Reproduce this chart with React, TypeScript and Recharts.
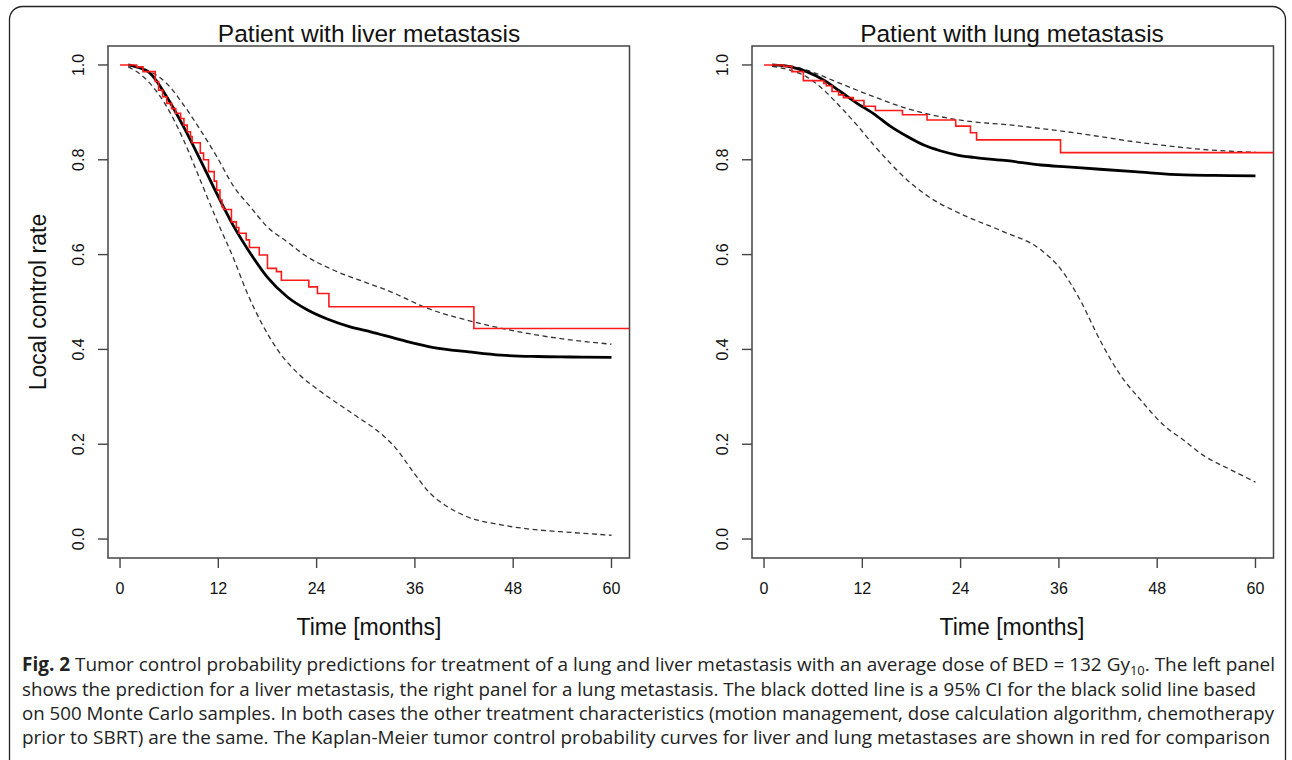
import React from 'react';
import { LineChart, Line, XAxis, YAxis, ReferenceArea } from 'recharts';

// ---------- tick labels ----------
const xTicks = [0, 12, 24, 36, 48, 60];
const yTicks = [0, 0.2, 0.4, 0.6, 0.8, 1.0];

// ---------- liver metastasis (left panel) ----------
const liverModelTime = [1, 2, 3.7, 5.7, 7.75, 9.8, 11.8, 13.9, 15.9, 17.95, 20.4, 22.9, 25.3, 28, 30.6, 34.3, 38.3, 42.6, 46.5, 51, 55, 60];
const liverModelRate = [1.0, 0.996, 0.982, 0.933, 0.87, 0.8, 0.729, 0.659, 0.603, 0.553, 0.511, 0.483, 0.464, 0.448, 0.437, 0.42, 0.404, 0.395, 0.388, 0.385, 0.384, 0.383];

const liverUpperTime = [1, 3.7, 5.7, 7.75, 9.8, 11.8, 13.9, 15.9, 17.95, 20.4, 22.8, 26.1, 30.2, 33, 37.5, 43.2, 47, 51, 55, 60];
const liverUpperRate = [1.0, 0.986, 0.961, 0.916, 0.863, 0.807, 0.743, 0.701, 0.659, 0.627, 0.596, 0.567, 0.54, 0.522, 0.487, 0.458, 0.443, 0.43, 0.42, 0.411];

const liverLowerTime = [1, 2.85, 5.7, 7.75, 9.8, 11.8, 13.9, 15.5, 17.3, 19.2, 22.0, 24.5, 28.6, 31.8, 33.5, 35.9, 37.5, 40, 42.4, 46.5, 50, 55, 60];
const liverLowerRate = [0.996, 0.975, 0.912, 0.842, 0.757, 0.673, 0.59, 0.52, 0.455, 0.4, 0.345, 0.311, 0.262, 0.223, 0.195, 0.139, 0.103, 0.068, 0.047, 0.03, 0.021, 0.014, 0.008];

const liverKmTime = [0, 2.0, 2.8, 4.3, 4.7, 5.2, 5.7, 6.3, 6.8, 7.4, 7.8, 8.2, 8.6, 8.8, 9.8, 10.2, 10.8, 11.5, 11.8, 12.2, 12.45, 12.65, 13.6, 14.2, 14.5, 15.4, 15.8, 17.0, 18.0, 19.1, 19.7, 23.05, 24.1, 25.5, 43.2, 62.2];
const liverKmRate = [1.0, 0.996, 0.986, 0.965, 0.947, 0.933, 0.919, 0.908, 0.898, 0.887, 0.873, 0.859, 0.849, 0.836, 0.814, 0.8, 0.775, 0.755, 0.736, 0.715, 0.701, 0.695, 0.669, 0.657, 0.645, 0.631, 0.615, 0.599, 0.571, 0.564, 0.546, 0.532, 0.518, 0.49, 0.444, 0.444];

// ---------- lung metastasis (right panel) ----------
const lungModelTime = [1, 3.2, 5.2, 7.3, 9.3, 11.35, 13.4, 15.4, 17.5, 19.5, 21.5, 23.6, 25.6, 29.7, 33.8, 37, 41, 45.2, 51.3, 55, 60];
const lungModelRate = [1.0, 0.996, 0.986, 0.968, 0.944, 0.919, 0.897, 0.871, 0.849, 0.831, 0.819, 0.81, 0.805, 0.798, 0.789, 0.785, 0.78, 0.775, 0.768, 0.767, 0.766];

const lungUpperTime = [1, 3.2, 5.2, 9.3, 13.4, 17.5, 21.5, 25.6, 29.7, 33.8, 37, 41, 45.2, 49, 53.4, 57, 60];
const lungUpperRate = [1.0, 0.998, 0.989, 0.961, 0.933, 0.908, 0.891, 0.88, 0.874, 0.866, 0.859, 0.849, 0.838, 0.83, 0.822, 0.818, 0.816];

const lungLowerTime = [1, 3.2, 5.2, 7.3, 9.3, 11.35, 13.4, 15.4, 17.5, 20.1, 24, 29, 33.8, 36.2, 38.6, 41, 43.5, 46, 48.8, 51.2, 53.6, 57, 60];
const lungLowerRate = [0.997, 0.989, 0.975, 0.947, 0.912, 0.873, 0.831, 0.793, 0.757, 0.722, 0.686, 0.65, 0.61, 0.57, 0.504, 0.42, 0.346, 0.293, 0.24, 0.209, 0.177, 0.146, 0.12];

const lungKmTime = [0, 2.4, 3.4, 4.8, 7.3, 7.6, 8.3, 9.1, 9.7, 10.9, 12.2, 13.6, 16.9, 19.9, 23.4, 25.2, 25.95, 36.2, 62.2];
const lungKmRate = [1.0, 0.997, 0.986, 0.967, 0.961, 0.956, 0.944, 0.937, 0.931, 0.925, 0.913, 0.904, 0.895, 0.884, 0.871, 0.857, 0.842, 0.815, 0.815];

// ---------- texts ----------
const panelTitles = ['Patient with liver metastasis', 'Patient with lung metastasis'];
const xAxisTitle = 'Time [months]';
const yAxisTitle = 'Local control rate';
const captionLines = [
  'shows the prediction for a liver metastasis, the right panel for a lung metastasis. The black dotted line is a 95% CI for the black solid line based',
  'on 500 Monte Carlo samples. In both cases the other treatment characteristics (motion management, dose calculation algorithm, chemotherapy',
  'prior to SBRT) are the same. The Kaplan-Meier tumor control probability curves for liver and lung metastases are shown in red for comparison',
];

const zip = (t: number[], v: number[]) => t.map((tt, i) => ({ t: tt, v: v[i] }));

const FONT = '"Liberation Sans", Arial, sans-serif';
const AX = '#444';

const XTick = (props: any) => {
  const { x, y, payload } = props;
  return (
    <text x={x} y={y + 24} textAnchor="middle" fontFamily={FONT} fontSize={16} fill="#111">
      {payload.value}
    </text>
  );
};

const YTick = (props: any) => {
  const { x, y, payload } = props;
  const cx = x - 17;
  return (
    <text
      x={cx}
      y={y}
      transform={`rotate(-90 ${cx} ${y})`}
      textAnchor="middle"
      dominantBaseline="central"
      fontFamily={FONT}
      fontSize={16}
      fill="#111"
    >
      {Number(payload.value).toFixed(1)}
    </text>
  );
};

type PanelProps = {
  left: number;
  model: { t: number; v: number }[];
  upper: { t: number; v: number }[];
  lower: { t: number; v: number }[];
  km: { t: number; v: number }[];
};

const X_DOMAIN: [number, number] = [-1.47, 62.2];
const Y_DOMAIN: [number, number] = [-0.04, 1.04];

const Panel = ({ left, model, upper, lower, km }: PanelProps) => (
  <div style={{ position: 'absolute', left, top: 0 }}>
    <LineChart width={650} height={640} margin={{ top: 46, right: 20.5, left: 48, bottom: 22 }}>
      <XAxis
        type="number"
        dataKey="t"
        domain={X_DOMAIN}
        allowDataOverflow
        ticks={xTicks}
        interval={0}
        height={60}
        axisLine={false}
        tickSize={10}
        tickLine={{ stroke: AX, strokeWidth: 1.4 }}
        tick={<XTick />}
      />
      <YAxis
        type="number"
        dataKey="v"
        domain={Y_DOMAIN}
        allowDataOverflow
        ticks={yTicks}
        interval={0}
        width={60}
        axisLine={false}
        tickSize={10}
        tickLine={{ stroke: AX, strokeWidth: 1.4 }}
        tick={<YTick />}
      />
      <ReferenceArea x1={X_DOMAIN[0]} x2={X_DOMAIN[1]} y1={Y_DOMAIN[0]} y2={Y_DOMAIN[1]} fill="none" stroke={AX} strokeWidth={1.5} />
      <Line data={upper} dataKey="v" type="monotone" stroke="#333" strokeWidth={1.3} strokeDasharray="5 3.5" dot={false} isAnimationActive={false} />
      <Line data={lower} dataKey="v" type="monotone" stroke="#333" strokeWidth={1.3} strokeDasharray="5 3.5" dot={false} isAnimationActive={false} />
      <Line data={model} dataKey="v" type="monotone" stroke="#000" strokeWidth={2.8} dot={false} isAnimationActive={false} />
      <Line data={km} dataKey="v" type="stepAfter" stroke="#ff1a1a" strokeWidth={1.6} dot={false} isAnimationActive={false} />
    </LineChart>
  </div>
);

const CAPTION_FONT = '"Open Sans", "Noto Sans", sans-serif';

export default function App() {
  const panelCenters = [369, 1012];
  return (
    <div style={{ position: 'absolute', left: 0, top: 0, width: 1292, height: 760, background: '#fff', overflow: 'hidden' }}>
      <Panel left={0} model={zip(liverModelTime, liverModelRate)} upper={zip(liverUpperTime, liverUpperRate)} lower={zip(liverLowerTime, liverLowerRate)} km={zip(liverKmTime, liverKmRate)} />
      <Panel left={644} model={zip(lungModelTime, lungModelRate)} upper={zip(lungUpperTime, lungUpperRate)} lower={zip(lungLowerTime, lungLowerRate)} km={zip(lungKmTime, lungKmRate)} />
      <svg width={1292} height={760} style={{ position: 'absolute', left: 0, top: 0, pointerEvents: 'none' }}>
        <rect x={9.5} y={6.5} width={1276} height={800} rx={13} fill="none" stroke="#222" strokeWidth={1.3} />
        {panelTitles.map((title, i) => (
          <text key={title} x={panelCenters[i]} y={42} textAnchor="middle" fontFamily={FONT} fontSize={24.5} fill="#111">
            {title}
          </text>
        ))}
        {panelCenters.map((cx) => (
          <text key={cx} x={cx} y={635} textAnchor="middle" fontFamily={FONT} fontSize={23} fill="#111">
            {xAxisTitle}
          </text>
        ))}
        <text x={46} y={302} transform="rotate(-90 46 302)" textAnchor="middle" fontFamily={FONT} fontSize={23} fill="#111">
          {yAxisTitle}
        </text>
        <text x={22} y={671} fontFamily={CAPTION_FONT} fontSize={19} fill="#222" textLength={1253} lengthAdjust="spacingAndGlyphs">
          <tspan fontWeight="bold">Fig. 2</tspan>
          <tspan> Tumor control probability predictions for treatment of a lung and liver metastasis with an average dose of BED = 132 Gy</tspan>
          <tspan fontSize={13} baselineShift="-4">10</tspan>
          <tspan>. The left panel</tspan>
        </text>
        {captionLines.map((line, i) => (
          <text key={i} x={22} y={696 + i * 24} fontFamily={CAPTION_FONT} fontSize={19} fill="#222" textLength={[1234, 1252, 1248][i]} lengthAdjust="spacingAndGlyphs">
            {line}
          </text>
        ))}
      </svg>
    </div>
  );
}
